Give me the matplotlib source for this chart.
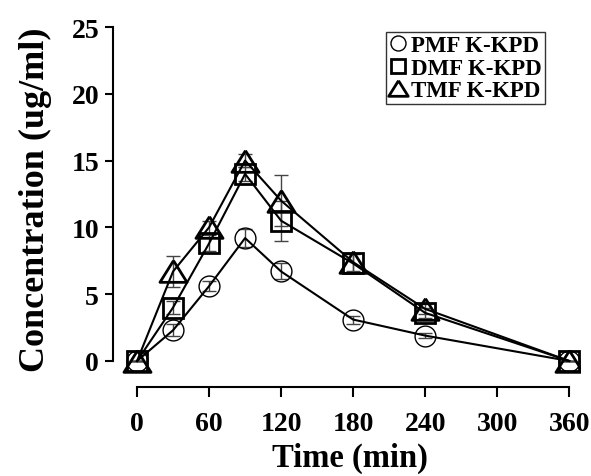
import numpy as np
import matplotlib.pyplot as plt

# Data
time_min = [0, 30, 60, 90, 120, 180, 240, 360]
pmf = [0, 2.3, 5.6, 9.2, 6.7, 3.1, 1.9, 0]
pmf_err = [0, 0.45, 0.35, 0.7, 0.6, 0.3, 0.2, 0]
dmf = [0, 4.0, 8.8, 14.0, 10.5, 7.3, 3.6, 0]
dmf_err = [0, 0.5, 0.6, 0.5, 1.5, 0.7, 0.4, 0]
tmf = [0, 6.7, 10.0, 15.0, 12.0, 7.4, 3.9, 0]
tmf_err = [0, 1.15, 0.5, 0.5, 1.9, 0.7, 0.4, 0]
labels = ["PMF K-KPD", "DMF K-KPD", "TMF K-KPD"]
x_ticks = [0, 60, 120, 180, 240, 300, 360]
y_ticks = [0, 5, 10, 15, 20, 25]

plt.rcParams["font.family"] = ["Liberation Serif", "DejaVu Serif"]
plt.rcParams["font.weight"] = "bold"

fig = plt.figure(figsize=(5.91, 4.77), dpi=100)
ax = fig.add_axes([120 / 591, 97 / 477, 460 / 591, 360 / 477])

# wide, flat open triangle like the reference
tri = [(0, 0.8), (-1, -0.8), (1, -0.8), (0, 0.8)]

series = [
    (pmf, pmf_err, "o", 15, 1.0),
    (dmf, dmf_err, "s", 14.5, 2.0),
    (tmf, tmf_err, tri, 19.5, 2.0),
]
for (vals, err, mk, ms, mew), lab in zip(series, labels):
    ax.errorbar(time_min, vals, yerr=err, fmt="none", ecolor="#444444",
                elinewidth=1.0, capsize=5, capthick=1.0, zorder=2)
    ax.plot(time_min, vals, color="black", lw=1.5, zorder=3)
    ax.plot(time_min, vals, ls="none", marker=mk, ms=ms, mfc="none",
            mec="black", mew=mew, zorder=4, label=lab)

ax.set_xlim(-14.2, 369)
ax.set_ylim(-1.35, 25.6)

for s in ["top", "right"]:
    ax.spines[s].set_visible(False)
ax.spines["left"].set_position(("outward", 5))
ax.spines["bottom"].set_position(("outward", 6))
ax.spines["left"].set_bounds(0, 25)
ax.spines["bottom"].set_bounds(0, 360)
for s in ["left", "bottom"]:
    ax.spines[s].set_linewidth(1.5)

ax.set_xticks(x_ticks)
ax.set_yticks(y_ticks)
ax.tick_params(axis="x", direction="out", length=7, width=1.5, labelsize=20, pad=10)
ax.tick_params(axis="y", direction="out", length=6, width=1.5, labelsize=20, pad=4)
for t in ax.get_xticklabels() + ax.get_yticklabels():
    t.set_fontweight("bold")

ax.set_xlabel("Time (min)", fontsize=23.5, fontweight="bold", labelpad=4)
ax.set_ylabel("Concentration (ug/ml)", fontsize=26, fontweight="bold", labelpad=14)

leg = ax.legend(loc="upper right", bbox_to_anchor=(0.924, 0.964),
                prop={"size": 16.5, "weight": "bold"}, frameon=True, fancybox=False,
                edgecolor="black", handlelength=0.8, handletextpad=0.15,
                borderpad=0.15, borderaxespad=0, labelspacing=0.05, markerscale=0.72)
leg.get_frame().set_linewidth(1.0)

fig.savefig("out.png", dpi=100)
